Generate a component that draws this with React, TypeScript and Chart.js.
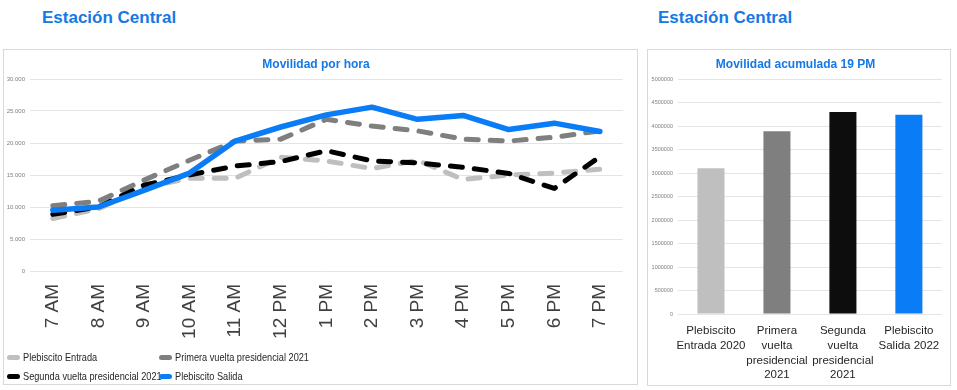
import React, { useEffect, useRef } from "react";
import { Chart, registerables } from "chart.js";

Chart.register(...registerables);

const hours = ["7 AM", "8 AM", "9 AM", "10 AM", "11 AM", "12 PM", "1 PM", "2 PM", "3 PM", "4 PM", "5 PM", "6 PM", "7 PM"];
const plebiscitoEntrada = [8200, 9700, 13000, 14500, 14500, 17800, 17200, 16000, 17300, 14300, 15000, 15300, 15900];
const primeraVuelta = [10200, 10900, 14200, 17300, 20300, 20600, 23700, 22650, 21900, 20600, 20300, 20900, 21900];
const segundaVuelta = [8850, 10000, 13400, 15000, 16400, 17100, 18800, 17200, 16900, 16200, 15250, 12900, 17850];
const plebiscitoSalida = [9500, 10000, 12600, 15300, 20300, 22500, 24400, 25600, 23700, 24300, 22100, 23100, 21800];

const seriesNames = ["Plebiscito Entrada", "Primera vuelta presidencial 2021", "Segunda vuelta presidencial 2021", "Plebiscito Salida"];
const seriesColors = ["#BFBFBF", "#7F7F7F", "#000000", "#0A7CF5"];

const accumLabels = [
  ["Plebiscito", "Entrada 2020"],
  ["Primera", "vuelta", "presidencial", "2021"],
  ["Segunda", "vuelta", "presidencial", "2021"],
  ["Plebiscito", "Salida 2022"],
];
const accumValues = [3100000, 3890000, 4300000, 4240000];
const barColors = ["#BFBFBF", "#7F7F7F", "#0D0D0D", "#0A7CF5"];

const HEAD_COLOR = "#1479E6";
const FONT = "'Liberation Sans', Arial, sans-serif";

function LineChart() {
  const ref = useRef<HTMLCanvasElement>(null);
  useEffect(() => {
    const series = [plebiscitoEntrada, primeraVuelta, segundaVuelta, plebiscitoSalida];
    const chart = new Chart(ref.current!, {
      type: "line",
      data: {
        labels: hours,
        datasets: series.map((d, i) => ({
          label: seriesNames[i],
          data: d,
          borderColor: seriesColors[i],
          backgroundColor: seriesColors[i],
          borderWidth: i === 3 ? 5.5 : 5,
          borderDash: i === 3 ? [] : [12, 12],
          borderCapStyle: "round" as const,
          borderJoinStyle: "round" as const,
          pointRadius: 0,
          tension: 0,
          order: 4 - i,
        })),
      },
      options: {
        animation: false,
        responsive: false,
        maintainAspectRatio: false,
        layout: { padding: { left: 0, right: 8, top: 0, bottom: 0 } },
        plugins: {
          legend: { display: false },
          tooltip: { enabled: false },
          title: {
            display: true,
            text: "Movilidad por hora",
            color: HEAD_COLOR,
            font: { family: FONT, size: 12, weight: "bold" },
            padding: { top: 7, bottom: 7.6 },
          },
        },
        scales: {
          x: {
            offset: true,
            grid: { display: false, drawTicks: false },
            border: { display: false },
            ticks: {
              minRotation: 90,
              maxRotation: 90,
              autoSkip: false,
              padding: 13,
              color: "#404040",
              font: { family: FONT, size: 19 },
            },
            afterFit: (s: any) => {
              s.height = 79;
            },
          },
          y: {
            min: 0,
            max: 30000,
            grid: { color: "#E4E4E4", drawTicks: false, lineWidth: 1 },
            border: { display: false },
            ticks: {
              stepSize: 5000,
              padding: 5,
              color: "#7F7F7F",
              font: { family: FONT, size: 6 },
              callback: (v: any) => Number(v).toString().replace(/\B(?=(\d{3})+(?!\d))/g, "."),
            },
            afterFit: (s: any) => {
              s.width = 26;
            },
          },
        },
      },
    });
    return () => chart.destroy();
  }, []);
  return <canvas ref={ref} width={632} height={300} style={{ position: "absolute", left: 4, top: 50, width: 632, height: 300 }} />;
}

function BarChart() {
  const ref = useRef<HTMLCanvasElement>(null);
  useEffect(() => {
    const chart = new Chart(ref.current!, {
      type: "bar",
      data: {
        labels: accumLabels as any,
        datasets: [
          {
            label: "Movilidad acumulada 19 PM",
            data: accumValues,
            backgroundColor: barColors,
            borderWidth: 0,
            categoryPercentage: 1,
            barPercentage: 0.41,
          },
        ],
      },
      options: {
        animation: false,
        responsive: false,
        maintainAspectRatio: false,
        layout: { padding: { left: 0, right: 6, top: 0, bottom: 0 } },
        plugins: {
          legend: { display: false },
          tooltip: { enabled: false },
          title: {
            display: true,
            text: "Movilidad acumulada 19 PM",
            color: HEAD_COLOR,
            font: { family: FONT, size: 12, weight: "bold" },
            padding: { top: 7, bottom: 7.6 },
          },
        },
        scales: {
          x: {
            grid: { display: false, drawTicks: false },
            border: { display: false },
            ticks: {
              padding: 9,
              color: "#262626",
              font: { family: FONT, size: 11.5, lineHeight: 1.3 },
              maxRotation: 0,
              autoSkip: false,
            },
            afterFit: (s: any) => {
              s.height = 70;
            },
          },
          y: {
            min: 0,
            max: 5000000,
            grid: { color: "#E4E4E4", drawTicks: false },
            border: { display: false },
            ticks: {
              stepSize: 500000,
              padding: 5,
              color: "#7F7F7F",
              font: { family: FONT, size: 5.5 },
              callback: (v: any) => String(v),
            },
            afterFit: (s: any) => {
              s.width = 30;
            },
          },
        },
      },
    });
    return () => chart.destroy();
  }, []);
  return <canvas ref={ref} width={301} height={334} style={{ position: "absolute", left: 648, top: 50, width: 301, height: 334 }} />;
}

function LegendItem({ x, y, color, text }: { x: number; y: number; color: string; text: string }) {
  return (
    <div style={{ position: "absolute", left: x, top: y - 8, height: 16, display: "flex", alignItems: "center", whiteSpace: "nowrap" }}>
      <span style={{ display: "inline-block", width: 13, height: 5, borderRadius: 3, background: color, marginRight: 3 }} />
      <span
        style={{
          display: "inline-block",
          fontFamily: FONT,
          fontSize: 11.5,
          color: "#262626",
          transform: "scaleX(0.8)",
          transformOrigin: "left center",
        }}
      >
        {text}
      </span>
    </div>
  );
}

export default function App() {
  const heading: React.CSSProperties = {
    position: "absolute",
    top: 8,
    fontFamily: FONT,
    fontWeight: "bold",
    fontSize: 17,
    color: HEAD_COLOR,
    whiteSpace: "nowrap",
  };
  return (
    <div style={{ position: "absolute", left: 0, top: 0, width: 957, height: 390, background: "#fff", overflow: "hidden" }}>
      <div style={{ ...heading, left: 42 }}>Estación Central</div>
      <div style={{ ...heading, left: 658 }}>Estación Central</div>
      <div style={{ position: "absolute", left: 3, top: 49, width: 633, height: 334, border: "1px solid #D9D9D9" }} />
      <div style={{ position: "absolute", left: 647, top: 49, width: 302, height: 335, border: "1px solid #D9D9D9" }} />
      <LineChart />
      <BarChart />
      <LegendItem x={7} y={357} color={seriesColors[0]} text={seriesNames[0]} />
      <LegendItem x={159} y={357} color={seriesColors[1]} text={seriesNames[1]} />
      <LegendItem x={7} y={376} color={seriesColors[2]} text={seriesNames[2]} />
      <LegendItem x={159} y={376} color={seriesColors[3]} text={seriesNames[3]} />
    </div>
  );
}
